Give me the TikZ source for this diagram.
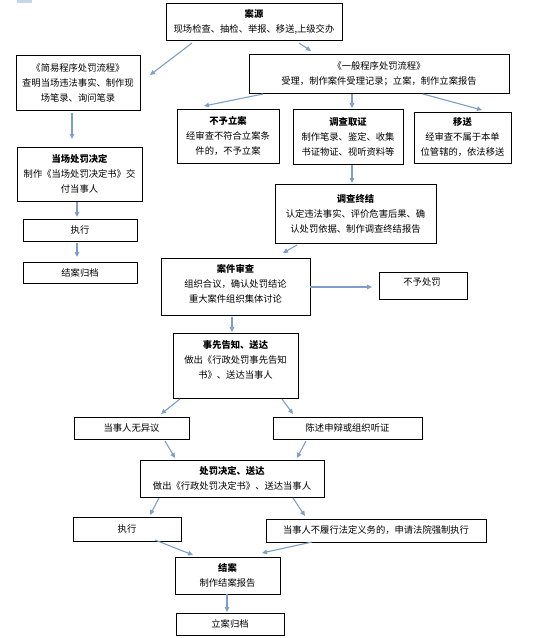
\documentclass[tikz,border=0pt]{standalone}
\usepackage{fontspec}
\setmainfont{Noto Sans CJK SC}
\usetikzlibrary{arrows.meta}
\definecolor{arrc}{RGB}{124,158,200}
\definecolor{patch}{RGB}{197,213,234}
\newcommand\conn[6]{\draw[arr] ([shift={(#2,#3)}]#1.center) -- ([shift={(#5,#6)}]#4.center);}
\begin{document}
\begin{tikzpicture}[x=1pt,y=-1pt,
  box/.style={draw=black,line width=0.9pt,rectangle,inner sep=0pt,align=center,
    font=\fontsize{9.3}{15}\selectfont},
  txt/.style={inner sep=0pt,align=center,font=\fontsize{9.3}{15}\selectfont},
  arr/.style={draw=arrc,line width=1.1pt,-{Triangle[length=5pt,width=4.5pt]}}]
\useasboundingbox (0,0) rectangle (547,638);
\fill[patch] (17,0) rectangle (32,3);
% boxes
\node[box,minimum width=176pt,minimum height=37pt] (src) at (254,21.5)
  {\textbf{案源}\\现场检查、抽检、举报、移送,上级交办};
\node[box,minimum width=124pt,minimum height=55pt] (simple) at (78,82.5)
  {《简易程序处罚流程》\\查明当场违法事实、制作现\\场笔录、询问笔录};
\node[box,minimum width=260pt,minimum height=39pt] (general) at (379,73.5)
  {《一般程序处罚流程》\\受理，制作案件受理记录；立案，制作立案报告};
\node[box,minimum width=125pt,minimum height=54pt] (onsite) at (79.5,174)
  {\textbf{当场处罚决定}\\制作《当场处罚决定书》交\\付当事人};
\node[box,minimum width=114pt,minimum height=22pt] (exec1) at (80,230) {执行};
\node[box,minimum width=114pt,minimum height=21pt] (arch1) at (80,272.5) {结案归档};
\node[box,minimum width=102pt,minimum height=54pt] (nofile) at (228,136)
  {\textbf{不予立案}\\经审查不符合立案条\\件的，不予立案};
\node[box,minimum width=110pt,minimum height=55pt] (inv) at (348,136.5)
  {\textbf{调查取证}\\制作笔录、鉴定、收集\\书证物证、视听资料等};
\node[box,minimum width=97pt,minimum height=51pt] (transfer) at (462.5,137.5)
  {\textbf{移送}\\经审查不属于本单\\位管辖的，依法移送};
\node[box,minimum width=161pt,minimum height=59pt] (concl) at (355.5,213.5)
  {\textbf{调查终结}\\认定违法事实、评价危害后果、确\\认处罚依据、制作调查终结报告};
\node[box,minimum width=149pt,minimum height=57pt] (review) at (235.5,286.5) {};
\node[txt] at (235.5,283.5) {\textbf{案件审查}\\组织合议，确认处罚结论\\重大案件组织集体讨论};
\node[box,minimum width=88pt,minimum height=27pt] (nopen) at (423,285.5) {};
\node[txt] at (422,282) {不予处罚};
\node[box,minimum width=125pt,minimum height=65pt] (notice) at (235.5,365.5) {};
\node[txt] at (235.5,359.5) {\textbf{事先告知、送达}\\做出《行政处罚事先告知\\书》、送达当事人};
\node[box,minimum width=115pt,minimum height=22pt] (noobj) at (131.5,428) {当事人无异议};
\node[box,minimum width=149pt,minimum height=22pt] (hearing) at (347.5,428) {陈述申辩或组织听证};
\node[box,minimum width=184pt,minimum height=37pt] (decision) at (232,478.5)
  {\textbf{处罚决定、送达}\\做出《行政处罚决定书》、送达当事人};
\node[box,minimum width=108pt,minimum height=24pt] (exec2) at (127,529) {执行};
\node[box,minimum width=220pt,minimum height=23pt] (enforce) at (376,530.5)
  {当事人不履行法定义务的，申请法院强制执行};
\node[box,minimum width=105pt,minimum height=37pt] (close) at (227.5,575.5)
  {\textbf{结案}\\制作结案报告};
\node[box,minimum width=108pt,minimum height=22pt] (arch2) at (230,624) {立案归档};
% connectors
\conn{src}{-62}{21.5}{simple}{72}{-7.5}
\conn{src}{45}{21.5}{general}{-68}{-22.5}
\conn{simple}{-6}{30.5}{onsite}{-7.5}{-35}
\conn{onsite}{-2.5}{28}{exec1}{-3}{-13}
\conn{exec1}{-3}{13}{arch1}{-3}{-15.5}
\conn{general}{-116}{20.5}{nofile}{-24}{-30}
\conn{general}{-27}{20.5}{inv}{4}{-28.5}
\conn{general}{44}{20.5}{transfer}{19.5}{-27.5}
\conn{inv}{4}{28.5}{concl}{-3.5}{-30.5}
\conn{concl}{-58.5}{31.5}{review}{47.5}{-33.5}
\conn{review}{74.5}{0.5}{nopen}{-51}{1.5}
\conn{review}{-3.5}{30.5}{notice}{-3.5}{-33.5}
\conn{notice}{-55.5}{33.5}{noobj}{29.5}{-14}
\conn{notice}{46.5}{33.5}{hearing}{-54.5}{-14}
\conn{noobj}{33.5}{13}{decision}{-57}{-20.5}
\conn{hearing}{-41.5}{13}{decision}{65}{-20.5}
\conn{decision}{-73}{19.5}{exec2}{23}{-14}
\conn{decision}{61}{19.5}{enforce}{-71}{-14.5}
\conn{exec2}{28}{11}{close}{-34.5}{-20.5}
\conn{enforce}{-64}{11.5}{close}{34.5}{-22.5}
\conn{close}{-0.5}{18.5}{arch2}{-3}{-12}
\end{tikzpicture}
\end{document}
